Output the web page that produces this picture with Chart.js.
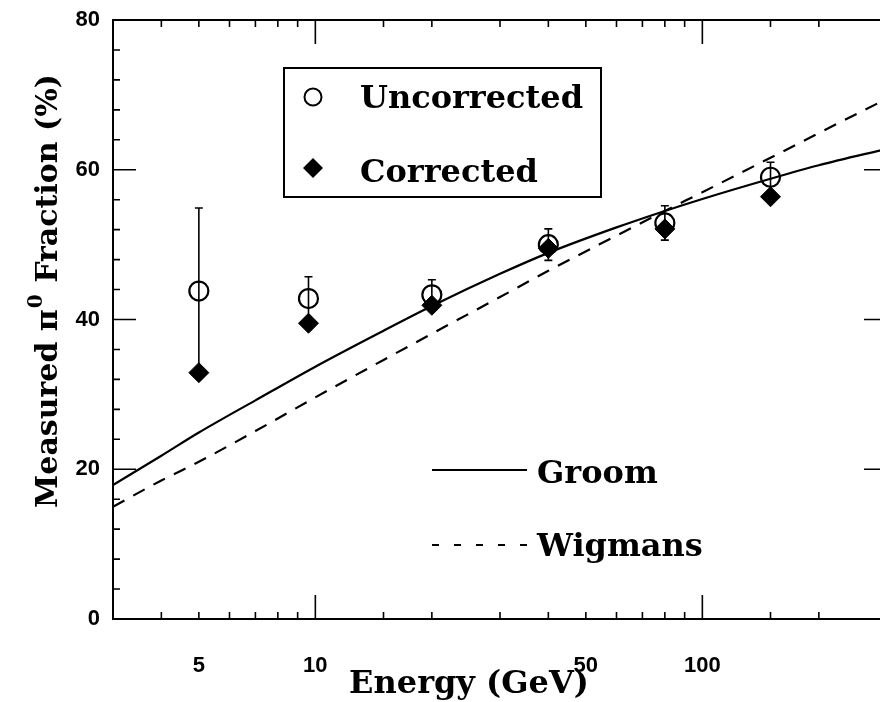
<!DOCTYPE html>
<html>
<head>
<meta charset="utf-8">
<script src="https://cdn.jsdelivr.net/npm/chart.js@4"></script>
<style>
  html, body { margin: 0; padding: 0; background: #fff; overflow: hidden; width: 880px; height: 702px; }
  #wrap { width: 880px; height: 702px; overflow: hidden; position: relative; }
  #chart { position: absolute; left: 0; top: 0; }
</style>
</head>
<body>
<div id="wrap"><canvas id="chart" width="900" height="702"></canvas></div>
<script>
// measured points (GeV, %)
const energies = [5, 9.6, 20, 40, 80, 150];
const uncorrected = [43.8, 42.8, 43.3, 50.0, 52.9, 59.0];
const uncorrectedErr = [11.1, 2.9, 2.0, 2.1, 2.3, 2.0];
const corrected = [32.9, 39.5, 41.9, 49.5, 52.1, 56.4];

// model curves
const curveEnergies = [3, 4, 5, 7, 10, 15, 20, 30, 40, 60, 80, 100, 150, 200, 300];
const groom = [17.9, 21.8, 24.9, 29.2, 33.7, 38.5, 41.8, 46.1, 48.9, 52.3, 54.5, 56.1, 58.8, 60.6, 62.8];
const wigmans = [15.0, 18.5, 21.0, 25.1, 29.6, 34.6, 38.1, 43.0, 46.5, 51.2, 54.5, 57.0, 61.6, 64.9, 69.5];

// tick labels
const xTickLabels = [5, 10, 50, 100];
const xMajorTicks = [10, 100];
const yTickLabels = [0, 20, 40, 60, 80];

const serif = "'DejaVu Serif', serif";
const tickFont = { family: "'Liberation Sans', Arial, sans-serif", weight: 'bold', size: 22 };

const has = (arr, v) => arr.some(a => Math.abs(a - v) < 1e-6);

const framePlugin = {
  id: 'frame',
  beforeDatasetsDraw(chart) {
    const ctx = chart.ctx;
    const xs = chart.scales.x, ys = chart.scales.y;
    // error bars on the uncorrected points
    ctx.save();
    ctx.strokeStyle = '#000';
    ctx.lineWidth = 1.6;
    energies.forEach((e, i) => {
      const px = xs.getPixelForValue(e);
      const top = ys.getPixelForValue(uncorrected[i] + uncorrectedErr[i]);
      const bot = ys.getPixelForValue(uncorrected[i] - uncorrectedErr[i]);
      ctx.beginPath();
      ctx.moveTo(px, top); ctx.lineTo(px, bot);
      ctx.moveTo(px - 4, top); ctx.lineTo(px + 4, top);
      ctx.moveTo(px - 4, bot); ctx.lineTo(px + 4, bot);
      ctx.stroke();
    });
    ctx.restore();
  },
  afterDraw(chart) {
    const ctx = chart.ctx;
    const a = chart.chartArea;
    const xs = chart.scales.x, ys = chart.scales.y;
    ctx.save();
    ctx.strokeStyle = '#000';
    ctx.fillStyle = '#000';

    // box
    ctx.lineWidth = 2;
    ctx.strokeRect(a.left, a.top, a.right - a.left, a.bottom - a.top);

    // inward ticks on all four sides
    ctx.lineWidth = 1.6;
    ctx.beginPath();
    xs.ticks.forEach(t => {
      const px = xs.getPixelForValue(t.value);
      const len = has(xMajorTicks, t.value) ? 24 : 7;
      ctx.moveTo(px, a.bottom); ctx.lineTo(px, a.bottom - len);
      ctx.moveTo(px, a.top); ctx.lineTo(px, a.top + len);
    });
    ys.ticks.forEach(t => {
      const py = ys.getPixelForValue(t.value);
      const len = has(yTickLabels, t.value) ? 23 : 7;
      ctx.moveTo(a.left, py); ctx.lineTo(a.left + len, py);
      ctx.moveTo(a.right, py); ctx.lineTo(a.right - len, py);
    });
    ctx.stroke();

    // legend for the points
    const ds = chart.data.datasets;
    ctx.lineWidth = 2;
    ctx.strokeRect(284, 68, 317, 129);
    ctx.beginPath();
    ctx.arc(313, 97, 8.5, 0, Math.PI * 2);
    ctx.stroke();
    ctx.beginPath();
    ctx.moveTo(313, 158); ctx.lineTo(323, 168); ctx.lineTo(313, 178); ctx.lineTo(303, 168);
    ctx.closePath();
    ctx.fill();
    ctx.font = 'bold 32px ' + serif;
    ctx.textAlign = 'left';
    ctx.textBaseline = 'alphabetic';
    ctx.fillText(ds[2].label, 360, 108);
    ctx.fillText(ds[3].label, 360, 182);

    // legend for the curves
    ctx.lineWidth = 2;
    ctx.beginPath();
    ctx.moveTo(432, 470); ctx.lineTo(527, 470);
    ctx.stroke();
    ctx.setLineDash([7, 15]);
    ctx.beginPath();
    ctx.moveTo(432, 545); ctx.lineTo(527, 545);
    ctx.stroke();
    ctx.setLineDash([]);
    ctx.fillText(ds[0].label, 537, 483);
    ctx.fillText(ds[1].label, 537, 556);

    // axis titles
    ctx.textAlign = 'center';
    ctx.fillText('Energy (GeV)', 469, 693);

    ctx.translate(57, 291);
    ctx.rotate(-Math.PI / 2);
    ctx.textAlign = 'left';
    const big = 'bold 30px ' + serif, small = 'bold 20px ' + serif;
    const p1 = 'Measured π', p2 = '0', p3 = ' Fraction (%)';
    ctx.font = big;
    const w1 = ctx.measureText(p1).width, w3 = ctx.measureText(p3).width;
    ctx.font = small;
    const w2 = ctx.measureText(p2).width + 2;
    let x0 = -(w1 + w2 + w3) / 2;
    ctx.font = big;
    ctx.fillText(p1, x0, 0);
    ctx.font = small;
    ctx.fillText(p2, x0 + w1 + 1, -15);
    ctx.font = big;
    ctx.fillText(p3, x0 + w1 + w2, 0);
    ctx.restore();
  }
};

new Chart(document.getElementById('chart'), {
  type: 'scatter',
  data: {
    datasets: [
      {
        label: 'Groom',
        type: 'line',
        data: curveEnergies.map((e, i) => ({ x: e, y: groom[i] })),
        borderColor: '#000',
        borderWidth: 2.2,
        pointRadius: 0,
        fill: false,
        cubicInterpolationMode: 'monotone'
      },
      {
        label: 'Wigmans',
        type: 'line',
        data: curveEnergies.map((e, i) => ({ x: e, y: wigmans[i] })),
        borderColor: '#000',
        borderWidth: 2.2,
        borderDash: [13, 10],
        pointRadius: 0,
        fill: false,
        cubicInterpolationMode: 'monotone'
      },
      {
        label: 'Uncorrected',
        data: energies.map((e, i) => ({ x: e, y: uncorrected[i] })),
        pointStyle: 'circle',
        pointRadius: 9.5,
        borderWidth: 2.2,
        borderColor: '#000',
        backgroundColor: 'rgba(0,0,0,0)'
      },
      {
        label: 'Corrected',
        data: energies.map((e, i) => ({ x: e, y: corrected[i] })),
        pointStyle: 'rectRot',
        pointRadius: 10,
        borderWidth: 1,
        borderColor: '#000',
        backgroundColor: '#000'
      }
    ]
  },
  options: {
    responsive: false,
    animation: false,
    layout: { padding: { top: 20, right: 13, left: 0, bottom: 0 } },
    plugins: {
      legend: { display: false },
      tooltip: { enabled: false }
    },
    scales: {
      x: {
        type: 'logarithmic',
        min: 3,
        max: 300,
        afterFit: s => { s.height = 83; s.paddingLeft = 0; s.paddingRight = 0; },
        grid: { display: false, drawTicks: false },
        border: { display: false },
        ticks: {
          autoSkip: false,
          maxRotation: 0,
          padding: 34,
          color: '#000',
          font: tickFont,
          callback: v => has(xTickLabels, v) ? String(v) : ''
        }
      },
      y: {
        min: 0,
        max: 80,
        afterFit: s => { s.width = 113; s.paddingTop = 0; s.paddingBottom = 0; },
        grid: { display: false, drawTicks: false },
        border: { display: false },
        ticks: {
          stepSize: 4,
          autoSkip: false,
          padding: 13,
          color: '#000',
          font: tickFont,
          callback: v => has(yTickLabels, v) ? String(v) : ''
        }
      }
    }
  },
  plugins: [framePlugin]
});
</script>
</body>
</html>
